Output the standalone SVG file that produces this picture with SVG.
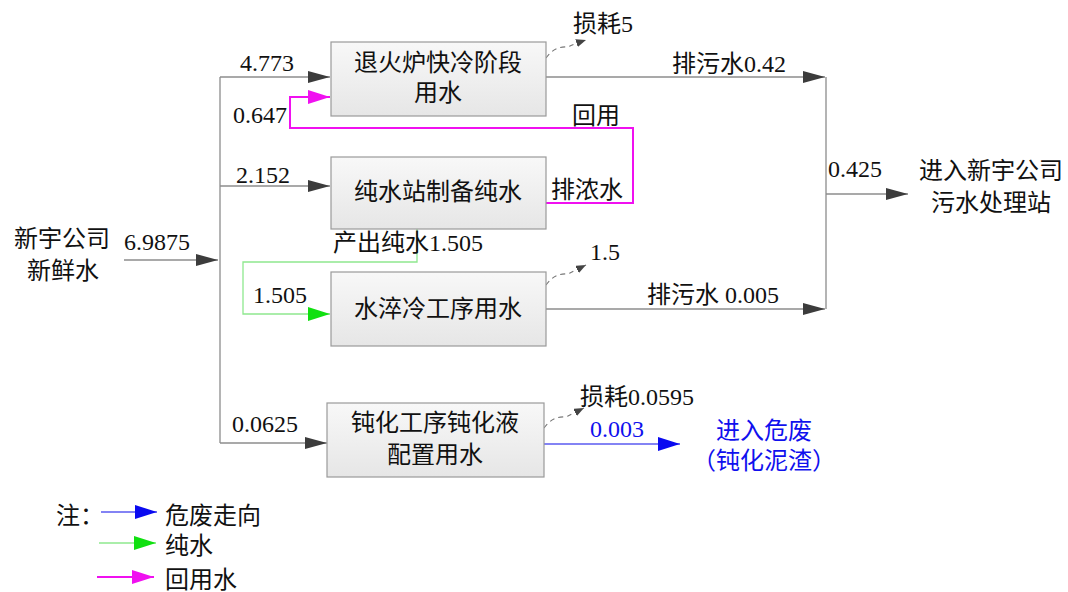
<svg xmlns="http://www.w3.org/2000/svg" width="1068" height="592" viewBox="0 0 1068 592">
<style>
text{font-family:"Liberation Serif","Noto Sans CJK SC",serif;font-size:24px;fill:#111}
.box{fill:url(#g);stroke:#9a9a9a;stroke-width:1.2}
.ln{fill:none;stroke:#8c8c8c;stroke-width:1.3}
.gr{fill:none;stroke:#8ee88e;stroke-width:1.3}
.mg{fill:none;stroke:#f010f0;stroke-width:2}
.bl{fill:none;stroke:#5a5af0;stroke-width:1.3}
.ds{fill:none;stroke:#777;stroke-width:1.2;stroke-dasharray:5 4}
.blt{fill:#1010ee}
.c{text-anchor:middle}
</style>
<defs>
<linearGradient id="g" x1="0" y1="0" x2="0" y2="1"><stop offset="0" stop-color="#f8f8f8"/><stop offset="1" stop-color="#e6e6e6"/></linearGradient>
<marker id="aG" markerUnits="userSpaceOnUse" markerWidth="22" markerHeight="12" refX="22" refY="6" orient="auto"><path d="M0,0L22,6L0,12z" fill="#3c3c3c"/></marker>
<marker id="aM" markerUnits="userSpaceOnUse" markerWidth="22" markerHeight="14" refX="22" refY="7" orient="auto"><path d="M0,0L22,7L0,14z" fill="#f010f0"/></marker>
<marker id="aN" markerUnits="userSpaceOnUse" markerWidth="22" markerHeight="14" refX="22" refY="7" orient="auto"><path d="M0,0L22,7L0,14z" fill="#10e010"/></marker>
<marker id="aB" markerUnits="userSpaceOnUse" markerWidth="22" markerHeight="14" refX="22" refY="7" orient="auto"><path d="M0,0L22,7L0,14z" fill="#0a0af0"/></marker>
<marker id="aS" markerUnits="userSpaceOnUse" markerWidth="10" markerHeight="8" refX="10" refY="4" orient="auto"><path d="M0,0L10,4L0,8z" fill="#444"/></marker>
</defs>

<g id="connectors">
<path class="ln" d="M124,260H218" marker-end="url(#aG)"/>
<path class="ln" d="M220,77V443"/>
<path class="ln" d="M220,77H330" marker-end="url(#aG)"/>
<path class="ln" d="M220,186H330" marker-end="url(#aG)"/>
<path class="ln" d="M220,443H327" marker-end="url(#aG)"/>
<path class="mg" d="M546,203H633V128H290V97H330" marker-end="url(#aM)"/>
<path class="gr" d="M417,229V262H243V314H330" marker-end="url(#aN)"/>
<path class="ln" d="M546,77H825" marker-end="url(#aG)"/>
<path class="ln" d="M546,309H825" marker-end="url(#aG)"/>
<path class="ln" d="M826,77V309"/>
<path class="ln" d="M826,194H908" marker-end="url(#aG)"/>
<path class="bl" d="M544,444H680" marker-end="url(#aB)"/>
<path class="ds" d="M546,58C556,44 566,48 570,46S580,42 586,40" marker-end="url(#aS)"/>
<path class="ds" d="M546,285C556,271 566,275 570,273S580,268 586,265" marker-end="url(#aS)"/>
<path class="ds" d="M544,428C554,414 564,418 568,416S578,411 584,408" marker-end="url(#aS)"/>
<path class="bl" d="M101,512H157" marker-end="url(#aB)"/>
<path class="gr" d="M99,543H156" marker-end="url(#aN)"/>
<path class="mg" d="M97,577H154" stroke-width="1.3" marker-end="url(#aM)"/>
</g>

<g id="n1"><rect class="box" x="331" y="42" width="215" height="74"/><text class="c" x="438" y="71">退火炉快冷阶段</text><text class="c" x="438" y="101">用水</text></g>
<g id="n2"><rect class="box" x="331" y="157" width="215" height="72"/><text class="c" x="438" y="200">纯水站制备纯水</text></g>
<g id="n3"><rect class="box" x="331" y="272" width="215" height="74"/><text class="c" x="438" y="317">水淬冷工序用水</text></g>
<g id="n4"><rect class="box" x="327" y="403" width="217" height="74"/><text class="c" x="435" y="431">钝化工序钝化液</text><text class="c" x="435" y="463">配置用水</text></g>
<g id="src"><text class="c" x="62" y="247">新宇公司</text><text class="c" x="63" y="279">新鲜水</text></g>
<g id="dst"><text class="c" x="991" y="179">进入新宇公司</text><text class="c" x="991" y="211">污水处理站</text></g>
<g id="haz"><text class="c blt" x="764" y="439">进入危废</text><text class="c blt" x="764" y="469">（钝化泥渣）</text></g>

<g id="labels">
<text x="124" y="250">6.9875</text>
<text x="240" y="71">4.773</text>
<text x="233" y="123">0.647</text>
<text x="236" y="183">2.152</text>
<text x="573" y="32">损耗5</text>
<text x="572" y="124">回用</text>
<text x="551" y="198">排浓水</text>
<text x="672" y="72">排污水0.42</text>
<text x="828" y="177">0.425</text>
<text x="333" y="251">产出纯水1.505</text>
<text x="590" y="260">1.5</text>
<text x="253" y="303">1.505</text>
<text x="647" y="303">排污水 0.005</text>
<text x="580" y="405">损耗0.0595</text>
<text x="232" y="432">0.0625</text>
<text class="blt" x="590" y="437">0.003</text>
<text x="56" y="524">注：</text>
<text x="165" y="524">危废走向</text>
<text x="165" y="554">纯水</text>
<text x="165" y="588">回用水</text>
</g>
</svg>
